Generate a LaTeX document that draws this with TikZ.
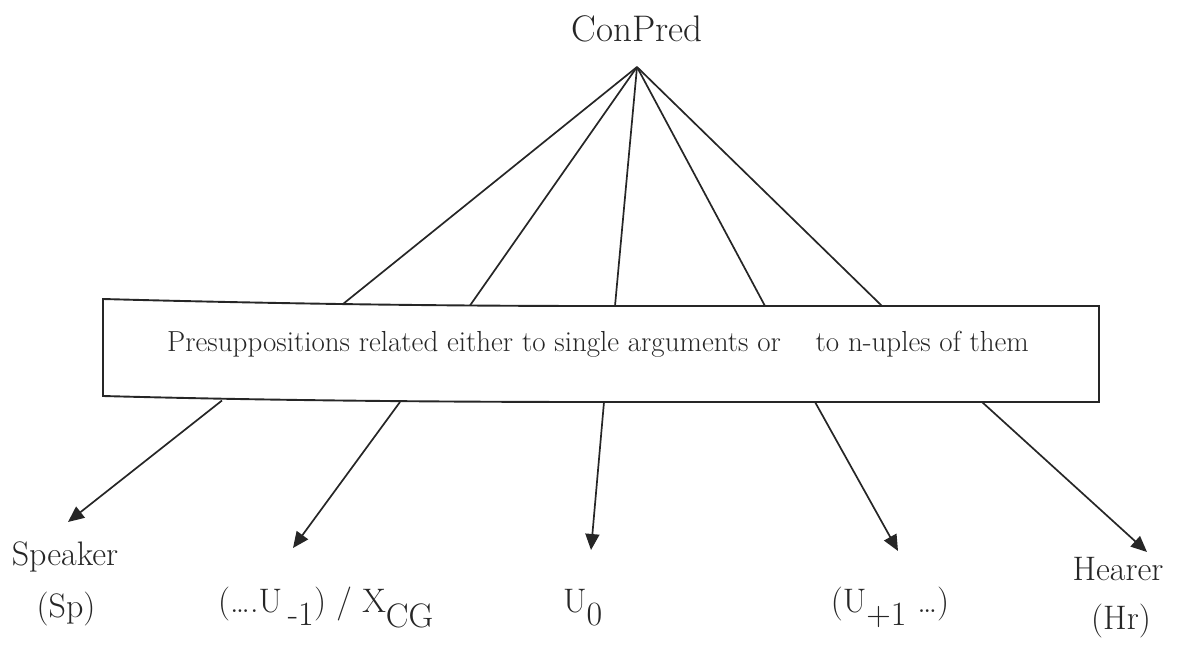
\documentclass[tikz,border=0pt]{standalone}
\usetikzlibrary{arrows.meta}
\begin{document}
\begin{tikzpicture}[x=1pt,y=-1pt,
  conn/.style={line width=1.7pt,draw=black!85},
  arr/.style={conn,-{Triangle[length=16pt,width=14pt]}},
  lbl/.style={font=\fontsize{34}{38}\selectfont,inner sep=0pt,align=center,text=black!85},
  boxline/.style={line width=1.9pt,draw=black!85}]
\useasboundingbox (0,0) rectangle (1181,661);
% title
\node[font=\fontsize{37}{40}\selectfont,text=black!85,anchor=base] (top) at (637,42) {ConPred};
\coordinate (apex) at (637,67);
% box
\draw[boxline] (103,299) .. controls (250,303) and (420,306) .. (600,306) -- (1099,306)
  -- (1099,402) -- (600,402) .. controls (420,402) and (250,400) .. (103,396) -- cycle;
\node[font=\fontsize{29}{32}\selectfont,text=black!85,anchor=base] (box) at (598,351)
  {Presuppositions related either to single arguments or\hspace{0.9em} to n-uples of them};
% attach points on box top
\coordinate (t1) at (343,304);
\coordinate (t2) at (470,305.5);
\coordinate (t3) at (615,306);
\coordinate (t4) at (765,306);
\coordinate (t5) at (882,306);
% attach points on box bottom
\coordinate (b1) at (222,400.5);
\coordinate (b2) at (400,402);
\coordinate (b3) at (604,402);
\coordinate (b4) at (815,402);
\coordinate (b5) at (982,402);
% arrow tips
\coordinate (e1) at (68,522);
\coordinate (e2) at (293,548);
\coordinate (e3) at (591,550);
\coordinate (e4) at (898,551);
\coordinate (e5) at (1147,552);
\foreach \i in {1,...,5}{\draw[conn] (apex) -- (t\i);}
\foreach \i in {1,...,5}{\draw[arr] (b\i) -- (e\i);}
% labels
\node[lbl,anchor=base] (sp) at (65,565) {Speaker};
\node[lbl,anchor=base] (sp2) at (66,617) {(Sp)};
\node[lbl,anchor=base] (u1) at (326,612) {(\dots.U\,$_{\textrm{-1}}$) / X$_{\textrm{CG}}$};
\node[lbl,anchor=base] (u0) at (583,612) {U$_{\textrm{0}}$};
\node[lbl,anchor=base] (u2) at (890,612) {(U$_{\textrm{+1}}$ \dots)};
\node[lbl,anchor=base] (hr) at (1118,580) {Hearer};
\node[lbl,anchor=base] (hr2) at (1121,629) {(Hr)};
\end{tikzpicture}
\end{document}
